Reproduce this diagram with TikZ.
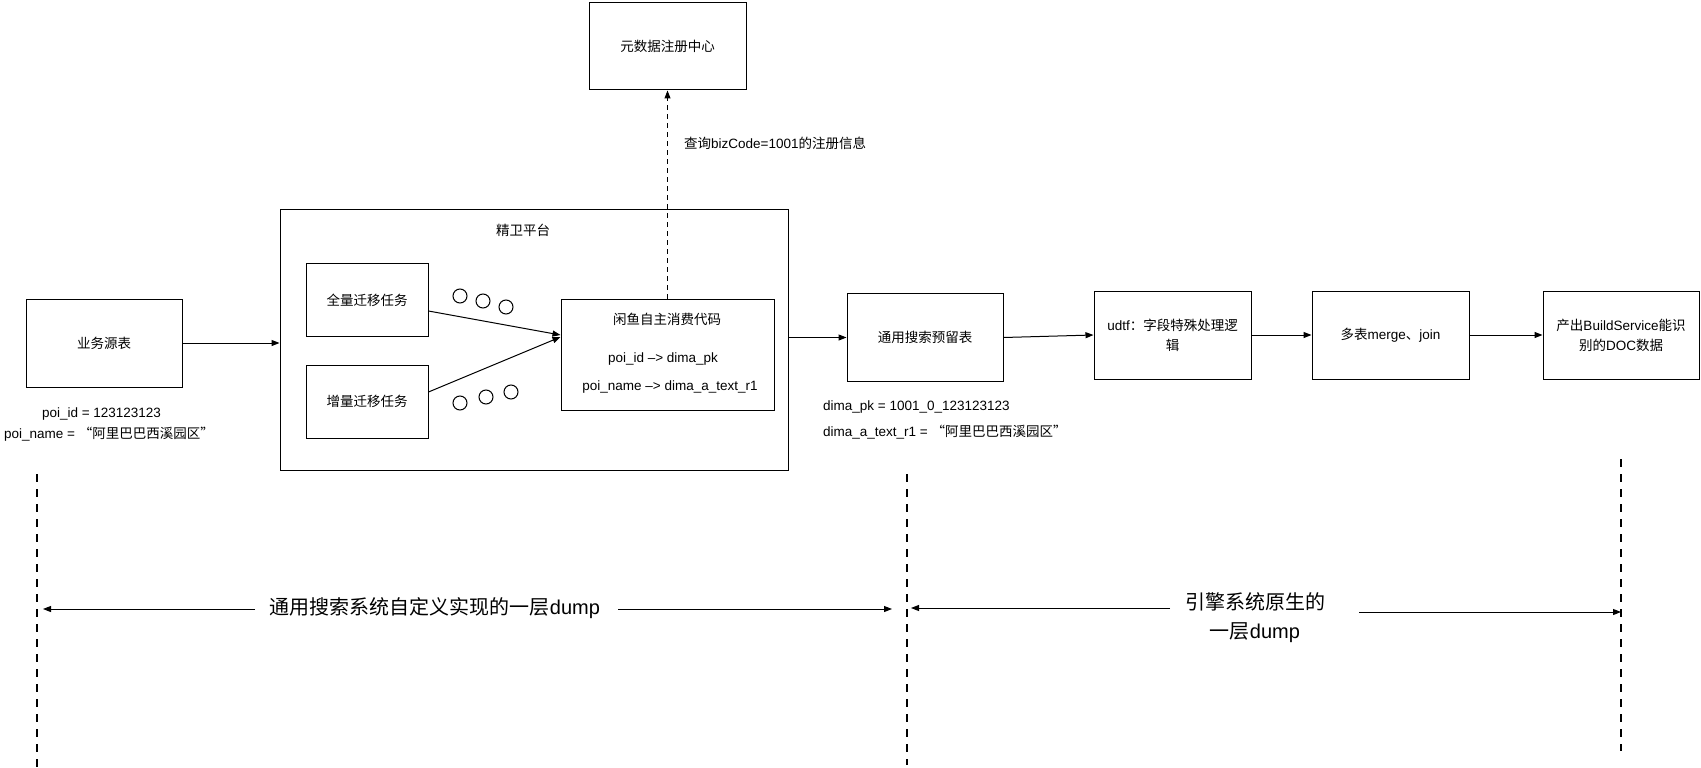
\documentclass[tikz,border=0pt]{standalone}
\usepackage{fontspec}
\setmainfont{Liberation Sans}
\newfontfamily\cjk{Noto Sans CJK SC}
\usetikzlibrary{arrows.meta}
\newcommand\fs{\fontsize{13.5}{20}\selectfont}
\newcommand\bigfs{\fontsize{20}{29}\selectfont}
\newcommand\zh[1]{{\cjk #1}}
\tikzset{
  box/.style={draw, line width=1pt, inner sep=0pt, align=center, font=\fs},
  lbl/.style={inner sep=0pt, align=center},
  arr/.style={line width=1pt, -{Triangle[length=8pt,width=6pt]}},
  bigdash/.style={line width=1.5pt, dash pattern=on 8pt off 7pt},
  smalldash/.style={line width=1pt, dash pattern=on 5pt off 4pt},
  dot/.style={draw, circle, line width=1pt, minimum size=14pt, inner sep=0pt},
}
\begin{document}
\begin{tikzpicture}[x=1pt,y=-1pt,font=\fs]
\useasboundingbox (0,0) rectangle (1701,768);

% boxes
\node[box, minimum width=156pt, minimum height=88pt] (src) at (104,343) {\zh{业务源表}};
\node[box, minimum width=157pt, minimum height=87pt] (meta) at (667.5,46.5) {\zh{元数据注册中心}};
\node[box, minimum width=508pt, minimum height=261pt] (plat) at (534,339.5) {};
\node[lbl] (platT) at (523,230) {\zh{精卫平台}};
\node[box, minimum width=122pt, minimum height=73pt] (full) at (367,300) {\zh{全量迁移任务}};
\node[box, minimum width=122pt, minimum height=73pt] (inc) at (367,401.5) {\zh{增量迁移任务}};
\node[box, minimum width=213pt, minimum height=111pt] (code) at (667.5,354.5) {};
\node[lbl] (codeT) at (667,319) {\zh{闲鱼自主消费代码}};
\node[lbl] (map1) at (663,359) {poi\_id --> dima\_pk};
\node[lbl] (map2) at (670,387) {poi\_name --> dima\_a\_text\_r1};
\node[box, minimum width=156pt, minimum height=88pt] (tbl) at (925,337.5) {\zh{通用搜索预留表}};
\node[box, minimum width=157pt, minimum height=88pt] (udtf) at (1172.5,335) {udtf\zh{：字段特殊处理逻}\\\zh{辑}};
\node[box, minimum width=157pt, minimum height=88pt] (merge) at (1390.5,335) {\zh{多表}merge\zh{、}join};
\node[box, minimum width=156pt, minimum height=88pt] (out) at (1621,335) {\zh{产出}BuildService\zh{能识}\\\zh{别的}DOC\zh{数据}};

% circles
\node[dot] (c1) at (460,296) {};
\node[dot] (c2) at (483,301) {};
\node[dot] (c3) at (506,307) {};
\node[dot] (c4) at (460,403) {};
\node[dot] (c5) at (486,397) {};
\node[dot] (c6) at (511,392) {};

% labels
\node[lbl] (poiA) at (101.5,414) {poi\_id = 123123123};
\node[lbl] (poiB) at (109,434) {poi\_name = \zh{“阿里巴巴西溪园区”}};
\node[lbl, anchor=west] (dimaA) at (823,407) {dima\_pk = 1001\_0\_123123123};
\node[lbl, anchor=west] (dimaB) at (823,432) {dima\_a\_text\_r1 = \zh{“阿里巴巴西溪园区”}};
\node[lbl, anchor=west] (query) at (684,143) {\zh{查询}bizCode=1001\zh{的注册信息}};
\node[lbl, font=\bigfs] (dumpA) at (435,608) {\zh{通用搜索系统自定义实现的一层}dump};
\node[lbl, font=\bigfs] (dumpB) at (1255,617.5) {\zh{引擎系统原生的}\\\zh{一层}dump};

% connectors
\draw[arr] (src.east) -- (src.east -| plat.west);
\draw[arr] (plat.east |- tbl.west) -- (tbl.west);
\draw[arr] (tbl.east) -- (udtf.west);
\draw[arr] (udtf.east) -- (merge.west);
\draw[arr] (merge.east) -- (out.west);
\draw[arr] ([yshift=-11pt]full.east) -- ([yshift=19.5pt]code.west);
\draw[arr] ([yshift=9.5pt]inc.east) -- ([yshift=17.5pt]code.west);
\draw[arr, smalldash] (code.north) -- (meta.south);

% vertical dashed separators
\coordinate (vL1) at (37,474); \coordinate (vL2) at (37,768);
\coordinate (vM1) at (907,474); \coordinate (vM2) at (907,765);
\coordinate (vR1) at (1621,459); \coordinate (vR2) at (1621,751);
\draw[bigdash] (vL1) -- (vL2);
\draw[bigdash] (vM1) -- (vM2);
\draw[bigdash] (vR1) -- (vR2);

% span arrows
\coordinate (a1s) at (255,609); \coordinate (a1e) at (43,609);
\coordinate (a2s) at (618,609); \coordinate (a2e) at (892,609);
\coordinate (a3s) at (1170,608); \coordinate (a3e) at (911,608);
\coordinate (a4s) at (1359,612); \coordinate (a4e) at (1621,612);
\draw[arr] (a1s) -- (a1e);
\draw[arr] (a2s) -- (a2e);
\draw[arr] (a3s) -- (a3e);
\draw[arr] (a4s) -- (a4e);
\end{tikzpicture}
\end{document}
